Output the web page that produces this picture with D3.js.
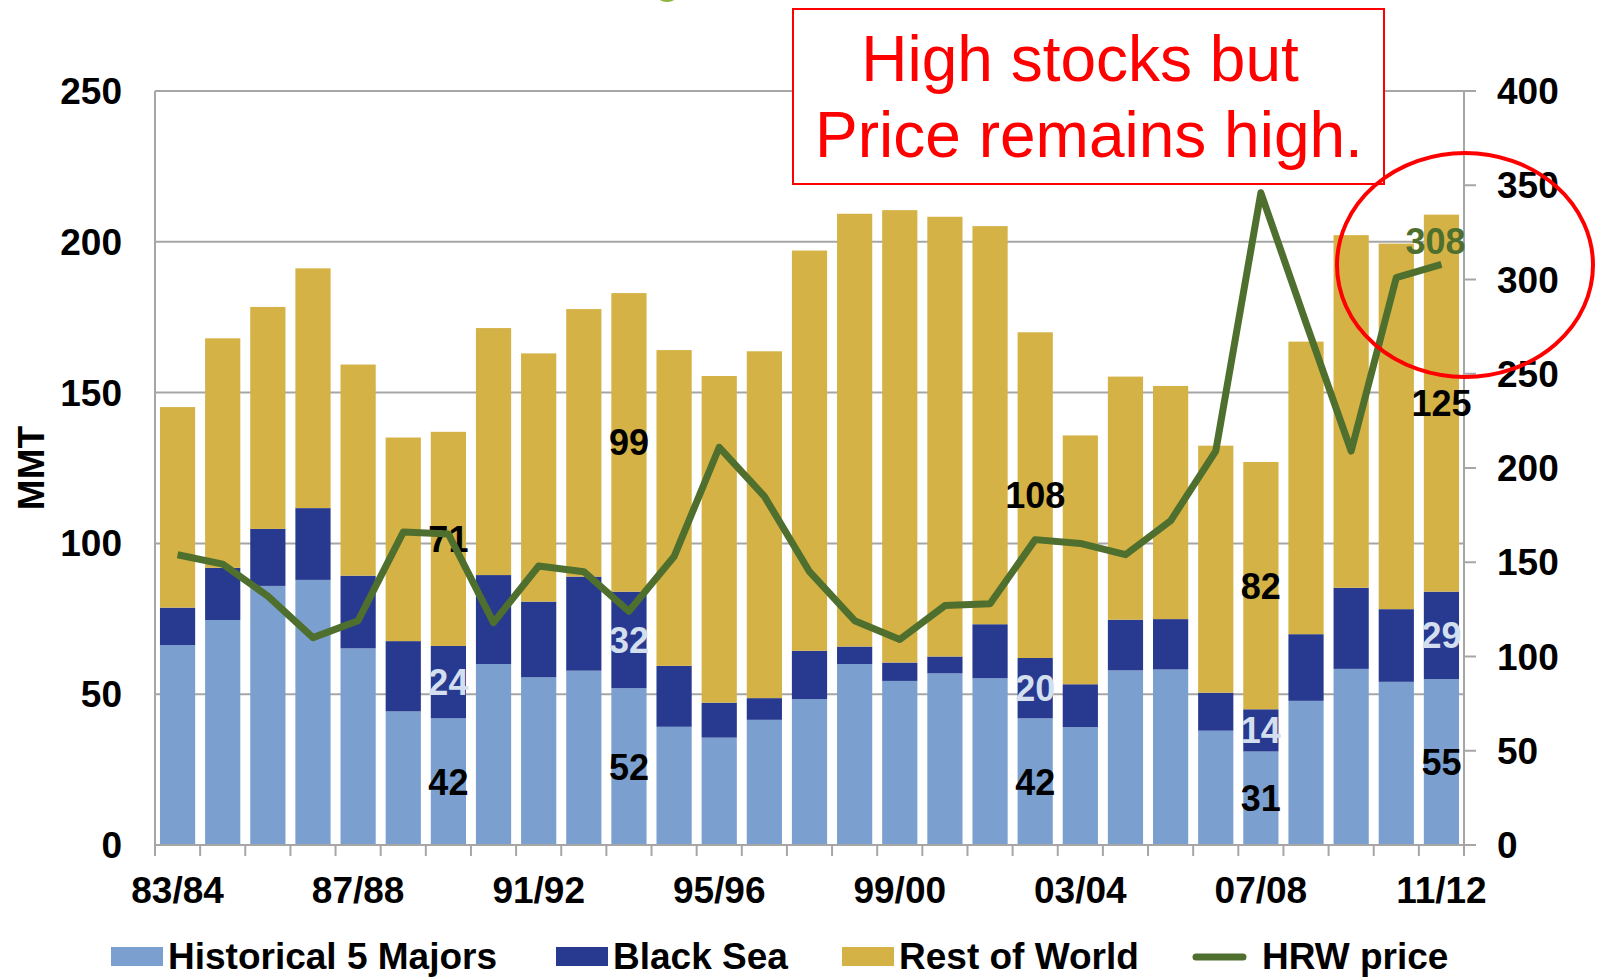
<!DOCTYPE html>
<html>
<head>
<meta charset="utf-8">
<script src="https://cdn.jsdelivr.net/npm/d3@7"></script>
<style>
  body { margin: 0; background: #fff; }
  svg { display: block; font-family: "Liberation Sans", Arial, sans-serif; }
  .tick-lbl { font-size: 37px; font-weight: bold; fill: #000; }
  .seg-lbl { font-size: 36px; font-weight: bold; }
  .legend-lbl { font-size: 37px; font-weight: bold; fill: #000; }
</style>
</head>
<body>
<svg id="chart" width="1599" height="977"></svg>
<script>
const years = ['83/84','84/85','85/86','86/87','87/88','88/89','89/90','90/91','91/92','92/93',
  '93/94','94/95','95/96','96/97','97/98','98/99','99/00','00/01','01/02','02/03',
  '03/04','04/05','05/06','06/07','07/08','08/09','09/10','10/11','11/12']

const majors = [66.3, 74.6, 85.9, 87.9, 65.2, 44.3, 42, 60.0, 55.6, 57.8, 52, 39.2, 35.6, 41.5, 48.4,
  60.0, 54.4, 56.9, 55.3, 42, 39.1, 57.9, 58.2, 37.9, 31, 47.8, 58.4, 54.1, 55]
const blackSea = [12.4, 17.3, 18.9, 23.8, 24.1, 23.3, 24, 29.5, 25.1, 31.2, 32, 20.2, 11.6, 7.2, 16.0,
  5.8, 6.1, 5.6, 17.9, 20, 14.2, 16.8, 16.7, 12.6, 14, 22.1, 26.9, 24.1, 29]
const restOfWorld = [66.5, 76.1, 73.6, 79.5, 70.0, 67.5, 71, 81.9, 82.3, 88.7, 99, 104.7, 108.3, 115.0, 132.7,
  143.5, 150.0, 145.8, 132.0, 108, 82.5, 80.6, 77.3, 81.9, 82, 97.0, 116.9, 121.2, 125]
const hrwPrice = [154, 149, 132, 110, 119, 166, 165, 118, 148, 145, 124, 153, 211, 185, 145,
  119, 109, 127, 128, 162, 160, 154, 172, 209, 346, 277, 209, 301, 308]

const leftTicks = [0, 50, 100, 150, 200, 250]
const rightTicks = [0, 50, 100, 150, 200, 250, 300, 350, 400]
const xLabels = ['83/84','87/88','91/92','95/96','99/00','03/04','07/08','11/12']
const labelled = ['89/90','93/94','02/03','07/08','11/12']

const seriesNames = ['Historical 5 Majors', 'Black Sea', 'Rest of World', 'HRW price']
const colors = { majors: '#7ba0cf', black: '#283a8f', rest: '#d4b245', line: '#4f6f2e' }

const svg = d3.select('#chart')

const pLeft = 155, pRight = 1464, pTop = 91, pBottom = 845

const x = d3.scaleBand()
  .domain(years)
  .range([pLeft, pRight])
  .paddingInner(0.22)
  .paddingOuter(0.11)

const step = x.step()

const y = d3.scaleLinear().domain([0, 250]).range([pBottom, pTop])
const y2 = d3.scaleLinear().domain([0, 400]).range([pBottom, pTop])

// gridlines
svg.append('g')
  .selectAll('line')
  .data(leftTicks.filter(d => d > 0))
  .enter()
  .append('line')
  .attr('x1', pLeft)
  .attr('x2', pRight)
  .attr('y1', d => y(d))
  .attr('y2', d => y(d))
  .attr('stroke', '#a6a6a6')
  .attr('stroke-width', 2)

// stacked bars
const rows = years.map((yr, i) => ({ yr, majors: majors[i], black: blackSea[i], rest: restOfWorld[i] }))
const stack = d3.stack().keys(['majors', 'black', 'rest'])(rows)

svg.append('g')
  .selectAll('g')
  .data(stack)
  .enter()
  .append('g')
  .attr('fill', d => colors[d.key])
  .selectAll('rect')
  .data(d => d)
  .enter()
  .append('rect')
  .attr('x', d => x(d.data.yr))
  .attr('width', x.bandwidth())
  .attr('y', d => y(d[1]))
  .attr('height', d => y(d[0]) - y(d[1]))

// axes lines
svg.append('line')
  .attr('x1', pLeft).attr('x2', pLeft)
  .attr('y1', pTop).attr('y2', pBottom)
  .attr('stroke', '#a6a6a6').attr('stroke-width', 2)

svg.append('line')
  .attr('x1', pRight).attr('x2', pRight)
  .attr('y1', pTop).attr('y2', pBottom)
  .attr('stroke', '#a6a6a6').attr('stroke-width', 2)

svg.append('line')
  .attr('x1', pLeft).attr('x2', pRight)
  .attr('y1', pBottom).attr('y2', pBottom)
  .attr('stroke', '#a6a6a6').attr('stroke-width', 2)

// x ticks at band boundaries
svg.append('g')
  .selectAll('line')
  .data(d3.range(years.length + 1))
  .enter()
  .append('line')
  .attr('x1', i => pLeft + i * step)
  .attr('x2', i => pLeft + i * step)
  .attr('y1', pBottom)
  .attr('y2', pBottom + 11)
  .attr('stroke', '#a6a6a6')
  .attr('stroke-width', 2)

// right ticks
svg.append('g')
  .selectAll('line')
  .data(rightTicks)
  .enter()
  .append('line')
  .attr('x1', pRight)
  .attr('x2', pRight + 12)
  .attr('y1', d => y2(d))
  .attr('y2', d => y2(d))
  .attr('stroke', '#a6a6a6')
  .attr('stroke-width', 2)

svg.append('g')
  .selectAll('text')
  .data(leftTicks)
  .enter()
  .append('text')
  .attr('class', 'tick-lbl')
  .attr('x', 122)
  .attr('y', d => y(d) + 13)
  .attr('text-anchor', 'end')
  .text(d => d)

svg.append('g')
  .selectAll('text')
  .data(rightTicks)
  .enter()
  .append('text')
  .attr('class', 'tick-lbl')
  .attr('x', 1497)
  .attr('y', d => y2(d) + 13)
  .text(d => d)

svg.append('g')
  .selectAll('text')
  .data(xLabels)
  .enter()
  .append('text')
  .attr('class', 'tick-lbl')
  .attr('x', d => x(d) + x.bandwidth() / 2)
  .attr('y', 903)
  .attr('text-anchor', 'middle')
  .text(d => d)

svg.append('text')
  .attr('class', 'tick-lbl')
  .attr('transform', 'translate(44,468) rotate(-90)')
  .attr('text-anchor', 'middle')
  .text('MMT')

// segment value labels
const lblData = []
stack.forEach(s => {
  s.forEach(d => {
    if (labelled.indexOf(d.data.yr) >= 0) {
      lblData.push({ key: s.key, yr: d.data.yr, v: d.data[s.key], mid: (d[0] + d[1]) / 2 })
    }
  })
})

svg.append('g')
  .selectAll('text')
  .data(lblData)
  .enter()
  .append('text')
  .attr('class', 'seg-lbl')
  .attr('x', d => x(d.yr) + x.bandwidth() / 2)
  .attr('y', d => y(d.mid) + 13)
  .attr('text-anchor', 'middle')
  .attr('fill', d => d.key === 'black' ? '#d3deef' : '#000')
  .text(d => d.v)

// price line
const lineGen = d3.line()
  .x((d, i) => x(years[i]) + x.bandwidth() / 2)
  .y(d => y2(d))

svg.append('path')
  .attr('d', lineGen(hrwPrice))
  .attr('fill', 'none')
  .attr('stroke', colors.line)
  .attr('stroke-width', 7)
  .attr('stroke-linejoin', 'round')

const last = hrwPrice.length - 1
svg.append('text')
  .attr('class', 'seg-lbl')
  .attr('x', x(years[last]) + x.bandwidth() / 2 - 6)
  .attr('y', y2(hrwPrice[last]) - 10)
  .attr('text-anchor', 'middle')
  .attr('fill', '#4f6f2e')
  .text(hrwPrice[last])

// annotation
svg.append('rect')
  .attr('x', 793).attr('y', 9)
  .attr('width', 591).attr('height', 175)
  .attr('fill', '#fff')
  .attr('stroke', '#ff0000')
  .attr('stroke-width', 2)

svg.append('text')
  .attr('x', 1080).attr('y', 81)
  .attr('text-anchor', 'middle')
  .attr('fill', '#ff0000')
  .style('font-size', '64px')
  .text('High stocks but')

svg.append('text')
  .attr('x', 1089).attr('y', 157)
  .attr('text-anchor', 'middle')
  .attr('fill', '#ff0000')
  .style('font-size', '64px')
  .text('Price remains high.')

svg.append('ellipse')
  .attr('cx', 1465).attr('cy', 265)
  .attr('rx', 128).attr('ry', 112)
  .attr('fill', 'none')
  .attr('stroke', '#ff0000')
  .attr('stroke-width', 4)

// green fragment at top edge
svg.append('ellipse')
  .attr('cx', 667).attr('cy', -12)
  .attr('rx', 14).attr('ry', 14)
  .attr('fill', '#8cb43c')

// legend
const legend = svg.append('g')
const legX = [111, 556, 842, 1193]
seriesNames.forEach((name, i) => {
  if (i < 3) {
    legend.append('rect')
      .attr('x', legX[i]).attr('y', 947)
      .attr('width', 52).attr('height', 19)
      .attr('fill', [colors.majors, colors.black, colors.rest][i])
  } else {
    legend.append('line')
      .attr('x1', legX[i] + 3).attr('x2', legX[i] + 50)
      .attr('y1', 957).attr('y2', 957)
      .attr('stroke', colors.line)
      .attr('stroke-width', 7)
      .attr('stroke-linecap', 'round')
  }
  legend.append('text')
    .attr('class', 'legend-lbl')
    .attr('x', i < 3 ? legX[i] + 57 : legX[i] + 69)
    .attr('y', 969)
    .text(name)
})
</script>
</body>
</html>
